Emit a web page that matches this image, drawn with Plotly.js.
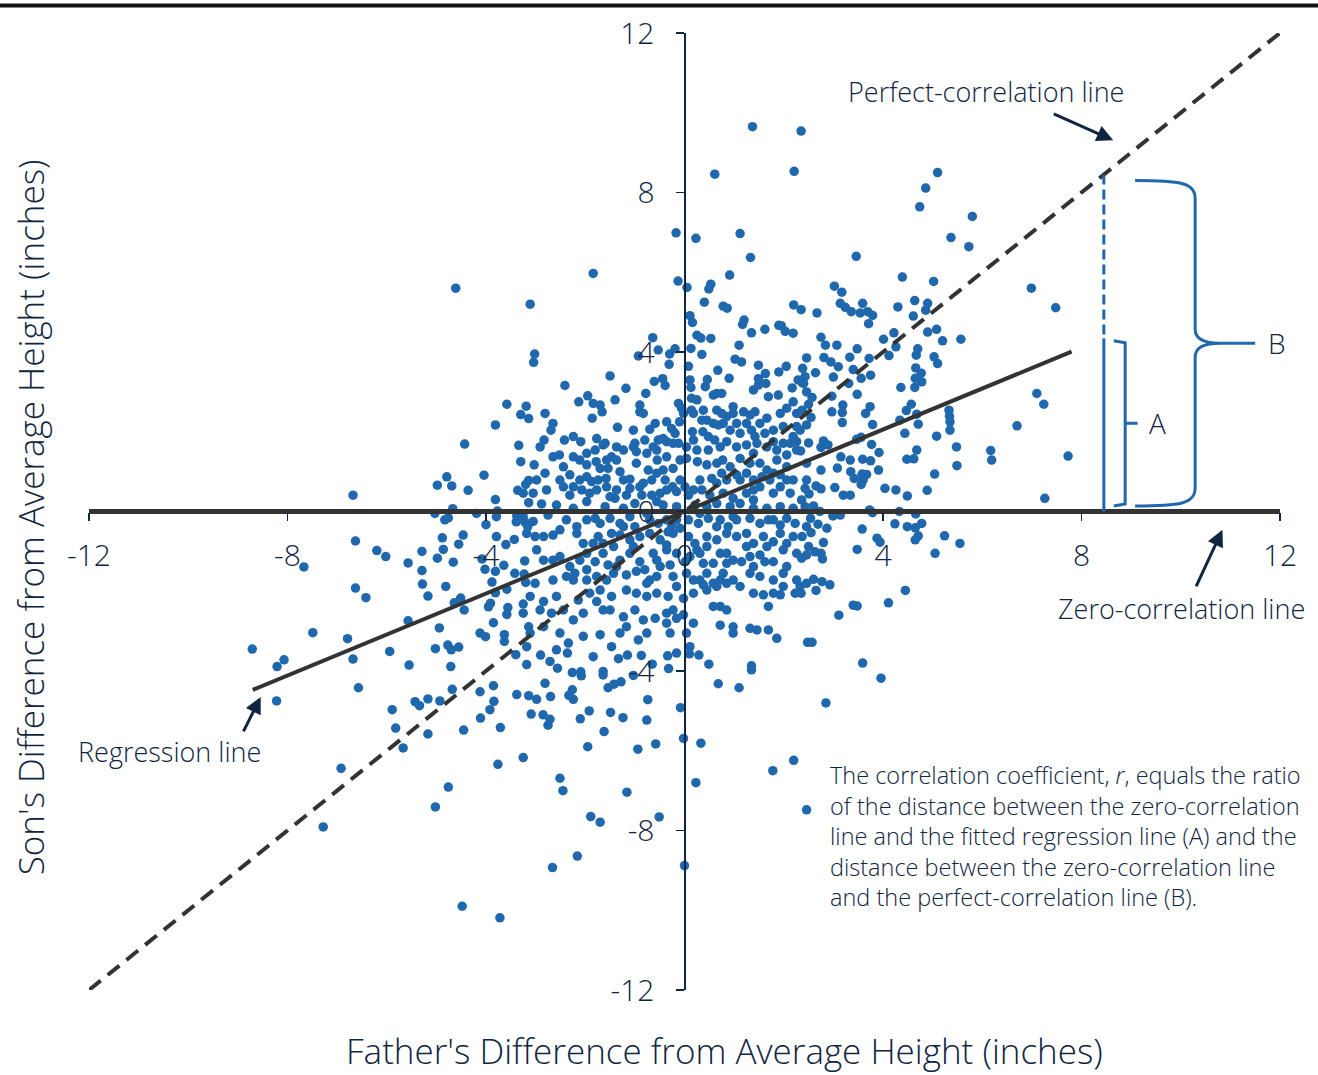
<!DOCTYPE html>
<html>
<head>
<meta charset="utf-8">
<script src="https://cdn.plot.ly/plotly-3.0.1.min.js"></script>
<style>
  html, body { margin: 0; padding: 0; background: #ffffff; }
  #chart { width: 1318px; height: 1075px; }
</style>
</head>
<body>
<div id="chart"></div>
<script>
// Axis ticks and range (inches from the average height)
const axisTicks = [-12, -8, -4, 0, 4, 8, 12];
const axisRange = [-12, 12];

// Fitted regression line: y = slope * x, drawn between these father values
const regressionSlope = 0.514;
const regressionX = [-8.7, 7.8];

// Father value at which distances A and B are measured
const measureX = 8.45;

// Father / son height differences (inches), one pair per family
const fatherSonPairs = [
  [-4.61,5.60],[-3.11,5.20],[1.37,9.65],[2.35,9.54],[0.61,8.46],[2.21,8.53],[-0.17,6.99],[0.23,6.85],
  [1.12,6.97],[1.33,6.37],[-1.84,5.97],[0.91,5.93],[-0.13,5.78],[0.05,5.62],[0.53,5.70],[0.49,5.58],
  [0.40,5.25],[0.78,5.15],[0.86,5.10],[2.20,5.18],[2.35,5.06],[0.11,4.91],[0.16,4.74],[1.20,4.80],
  [1.17,4.69],[1.90,4.67],[1.95,4.66],[2.03,4.52],[2.19,4.47],[1.35,4.48],[1.62,4.57],[0.25,4.42],
  [0.33,4.35],[0.53,4.34],[-0.64,4.36],[1.10,4.17],[0.13,4.09],[-0.53,4.05],[-0.19,4.08],[-0.30,3.95],
  [0.35,3.94],[-3.02,3.95],[-3.04,3.74],[-0.93,3.90],[-0.31,3.69],[0.08,3.64],[1.02,3.82],[1.15,3.75],
  [1.49,3.67],[2.46,3.85],[0.67,3.54],[1.63,3.46],[1.90,3.50],[2.05,3.64],[2.38,3.59],[-1.50,3.40],
  [-2.41,3.16],[-0.61,3.26],[-0.44,3.33],[-0.39,3.16],[0.11,3.30],[0.46,3.31],[0.90,3.34],[1.49,3.33],
  [1.64,3.21],[2.29,3.30],[2.43,3.38],[-1.18,3.09],[0.13,3.11],[0.42,3.13],[2.17,3.10],
  [5.10,8.50],[4.86,8.11],[4.74,7.64],[5.80,7.40],[5.37,6.87],[5.73,6.64],[3.46,6.40],[4.39,5.88],
  [5.02,5.77],[6.99,5.60],[7.48,5.11],[3.02,5.65],[3.17,5.50],[3.14,5.22],[3.24,5.12],[3.36,5.01],
  [3.59,5.22],[3.54,4.98],[3.69,5.01],[3.79,4.92],[3.71,4.71],[2.67,4.98],[4.30,5.13],[4.64,5.29],
  [4.90,5.22],[4.86,5.05],[4.61,4.90],[4.22,4.48],[4.01,4.32],[4.90,4.50],[5.08,4.57],[5.20,4.28],
  [5.57,4.32],[2.75,4.37],[2.84,4.17],[3.07,4.17],[3.48,4.08],[4.26,4.13],[4.70,4.08],[4.67,3.92],
  [4.12,3.91],[3.72,3.84],[3.33,3.87],[2.81,3.86],[2.95,3.75],[3.10,3.63],[3.40,3.56],[2.64,3.48],
  [3.00,3.37],[3.56,3.34],[3.75,3.42],[3.31,3.21],[5.03,3.88],[5.10,3.71],[4.66,3.60],[4.77,3.47],
  [4.65,3.34],[4.78,3.25],[4.36,3.11],[4.64,3.11],[2.40,3.21],
  [-3.58,2.69],[-3.19,2.64],[-3.30,2.43],[-3.14,2.33],[-3.81,2.17],[-4.43,1.69],[-3.34,1.66],[-3.30,1.25],
  [-4.04,0.91],[-4.79,0.87],[-4.98,0.66],[-4.69,0.64],[-4.36,0.53],[-3.36,0.53],[-3.20,0.68],[-3.14,0.78],
  [-3.14,0.22],[-6.68,0.41],[-3.81,0.30],[-4.67,0.07],[-5.03,-0.05],[-4.19,-0.05],[-3.77,0.01],[-3.79,-0.13],
  [-4.83,-0.21],[-4.76,-0.16],[-3.38,-0.11],[-3.39,-0.26],[-3.22,-0.26],[-3.16,-0.38],[-4.00,-0.33],[-6.63,-0.74],
  [-4.88,-0.66],[-4.46,-0.59],[-4.55,-0.82],[-4.86,-0.95],[-5.29,-1.00],[-4.98,-1.17],[-4.66,-1.27],[-3.79,-0.63],
  [-3.43,-0.70],[-3.60,-0.83],[-4.08,-1.19],[-3.64,-1.35],[-3.22,-1.24],[-6.20,-0.98],[-6.02,-1.13],[-5.57,-1.29],
  [-5.29,-1.48],[-7.67,-1.39],[-4.02,-1.45],[-3.81,-1.50],[-3.42,-1.55],[-3.23,-1.57],[-5.28,-1.82],[-4.81,-1.88],
  [-5.17,-2.12],[-6.63,-1.92],[-6.42,-2.16],[-3.88,-1.77],[-3.58,-1.95],[-3.81,-2.04],[-3.20,-1.78],[-4.64,-2.29],
  [-4.51,-2.17],[-4.44,-2.47],[-3.95,-2.39],[-3.91,-2.30],[-3.56,-2.41],[-3.58,-2.58],[-3.25,-2.32],[-3.25,-2.55],
  [-3.85,-2.79],[-5.57,-2.74],[-4.94,-2.92],[-3.14,-2.89],[-7.49,-3.04],[-6.79,-3.19],[-4.12,-3.05],[-4.01,-3.14],
  [-3.63,-3.09],[-3.63,-3.26],[-8.71,-3.45],[-5.94,-3.51],[-5.02,-3.44],[-4.77,-3.35],[-4.55,-3.40],[-4.70,-3.47],
  [-3.40,-3.59],[-8.07,-3.72],[-6.68,-3.70],
  [-8.21,-3.89],[-6.57,-4.42],[-8.22,-4.75],[-5.55,-3.85],[-4.71,-3.89],[-4.68,-4.46],[-5.43,-4.77],[-5.34,-4.87],
  [-5.17,-4.70],[-4.93,-4.75],[-5.89,-4.97],[-5.82,-5.43],[-5.17,-5.58],[-5.67,-5.93],[-4.45,-5.48],[-4.12,-4.52],
  [-3.85,-4.37],[-3.84,-4.76],[-3.92,-4.97],[-4.11,-5.18],[-3.71,-5.42],[-3.38,-4.59],[-3.18,-3.84],[-3.25,-6.17],
  [-3.76,-6.34],[-6.92,-6.44],[-4.76,-6.91],[-5.02,-7.41],[-7.28,-7.91],[-4.48,-9.90],[-3.72,-10.19],
  [-2.90,-3.60],[-2.71,-3.76],[-2.56,-3.93],[-2.36,-3.55],[-2.26,-4.04],[-2.09,-4.02],[-2.08,-4.12],[-1.64,-4.01],
  [-1.64,-4.10],[-1.54,-4.42],[-1.42,-4.33],[-1.28,-4.27],[-1.33,-3.69],[-1.15,-3.60],[-0.87,-3.61],[-1.03,-4.11],
  [-0.65,-3.83],[-0.34,-3.62],[-0.32,-3.94],[-0.74,-4.72],[-2.81,-4.31],[-3.14,-4.62],[-2.98,-4.71],[-2.70,-4.64],
  [-2.33,-4.61],[-2.26,-4.47],[-2.24,-4.71],[-3.09,-5.08],[-2.85,-5.10],[-2.71,-5.21],[-2.75,-5.36],[-2.10,-5.20],
  [-1.92,-5.00],[-1.49,-5.04],[-1.24,-5.17],[-0.76,-5.23],[-1.62,-5.52],[-1.95,-5.90],[-0.94,-5.96],[-0.58,-5.83],
  [-2.51,-6.69],[-2.45,-7.00],[-1.16,-7.04],[-1.89,-7.65],[-1.70,-7.79],[-0.51,-7.66],[-2.16,-8.64],[-2.66,-8.93],
  [0.00,-8.88],[-0.08,-4.92],[-0.02,-5.69],[0.33,-5.81],[0.23,-6.80],[0.10,-3.57],[0.29,-3.60],[0.49,-3.83],
  [1.35,-3.87],[1.35,-3.97],[0.68,-4.32],[1.10,-4.42],[1.78,-6.50],[2.20,-6.24],[2.46,-7.48],[3.59,-3.80],
  [3.96,-4.18],[2.85,-4.80],
  [7.10,2.96],[7.24,2.69],[6.70,2.15],[6.17,1.53],[6.19,1.29],[7.73,1.39],[7.26,0.33],[5.33,2.54],
  [5.34,2.39],[5.35,2.25],[5.35,2.04],[5.08,1.89],[5.48,1.62],[5.49,1.15],[5.04,0.94],[4.89,0.53],
  [3.48,2.94],[2.97,2.89],[3.19,2.67],[3.18,2.48],[2.97,2.50],[2.57,2.86],[2.50,2.69],[2.55,2.36],
  [2.46,2.17],[3.18,2.23],[3.65,2.46],[3.74,2.63],[3.79,2.18],[4.57,2.69],[4.47,2.53],[4.68,2.44],
  [4.71,2.19],[4.34,2.29],[4.44,1.96],[4.68,1.54],[4.48,1.31],[4.62,1.32],[3.92,1.48],[3.77,1.68],
  [3.47,1.81],[3.56,1.86],[2.80,1.77],[2.89,1.67],[2.75,1.61],[2.50,1.72],[2.34,1.52],[3.15,1.37],
  [3.34,1.29],[3.59,1.31],[3.75,1.27],[3.08,1.09],[3.35,1.00],[3.42,0.83],[3.58,0.94],[3.67,0.93],
  [3.60,0.79],[3.56,0.68],[2.75,1.04],[3.91,1.04],[2.46,0.79],[2.43,0.58],[2.65,0.64],[2.75,0.57],
  [2.51,0.44],[3.03,0.60],[3.20,0.41],[3.34,0.41],[4.04,0.58],[4.26,0.54],[4.49,0.39],[2.36,0.29],
  [2.60,0.14],[2.73,0.00],[2.99,-0.11],[3.14,-0.09],[3.73,0.04],[3.79,-0.03],[4.33,0.00],[4.66,-0.06],
  [4.24,-0.31],[4.78,-0.30],[4.49,-0.38],[4.65,-0.41],[4.71,-0.61],[4.65,-0.71],[2.54,-0.17],[2.69,-0.32],
  [2.87,-0.42],[3.58,-0.44],[3.88,-0.67],[3.94,-0.77],[5.24,-0.61],[5.55,-0.80],[5.05,-1.05],[2.55,-0.53],
  [2.80,-0.78],[3.48,-0.95],[2.46,-1.09],[2.63,-1.01],[2.75,-1.05],[2.78,-1.19],[2.36,-1.17],[2.60,-1.70],
  [2.77,-1.76],[2.93,-1.84],[2.65,-1.98],[2.35,-2.05],[4.45,-1.98],[4.11,-2.29],[3.40,-2.35],[3.48,-2.37],
  [3.11,-2.60],[2.48,-3.28],[2.57,-3.28],
  [-0.78,2.96],[0.14,2.84],[0.25,2.80],[0.58,2.92],[0.65,2.96],[0.75,2.96],[0.98,2.63],[1.39,3.05],
  [1.49,3.17],[1.69,2.88],[1.89,2.92],[2.19,2.75],[2.37,3.23],[2.46,3.00],[-2.81,2.46],[-2.13,2.75],
  [-1.95,2.90],[-1.84,2.71],[-1.70,2.67],[-1.66,2.50],[-1.40,2.80],[-0.90,2.67],[-0.90,2.50],[-0.83,2.46],
  [-0.12,2.71],[-0.06,2.59],[-0.02,2.46],[0.14,2.54],[0.38,2.54],[0.65,2.54],[0.75,2.46],[0.98,2.46],
  [1.19,2.50],[1.32,2.42],[1.42,2.50],[1.66,2.34],[1.93,2.46],[2.06,2.59],[2.26,2.46],[2.37,2.54],
  [-2.65,2.21],[-2.69,2.04],[-1.86,2.34],[-1.35,2.11],[-1.03,2.04],[-0.70,2.06],[-0.59,2.21],[-0.36,2.25],
  [-0.26,2.08],[-0.19,1.96],[-0.10,2.25],[-0.12,1.71],[0.16,2.00],[0.37,2.00],[0.45,2.29],[0.58,2.21],
  [0.68,2.17],[0.78,2.21],[0.92,2.04],[1.05,2.21],[1.12,1.96],[1.35,2.04],[1.52,2.21],[1.62,1.96],
  [1.79,2.04],[1.99,2.13],[2.19,1.88],[2.33,2.04],[-2.83,1.79],[-2.42,1.79],[-2.24,1.88],[-2.09,1.75],
  [-1.77,1.83],[-1.60,1.71],[-1.00,1.71],[-0.80,1.79],[-0.53,1.79],[-0.36,1.75],[-0.23,1.71],[0.48,1.88],
  [0.61,1.79],[0.85,1.75],[1.05,1.62],[1.25,1.67],[1.46,1.71],[1.79,1.75],[1.99,1.71],[2.26,1.75],
  [-3.03,1.17],[-2.81,0.96],[-2.52,1.42],[-2.24,1.37],[-2.11,1.29],[-1.97,1.46],[-1.80,1.54],[-1.64,1.67],
  [-1.57,1.29],[-1.78,1.25],[-1.70,1.08],[-1.54,1.08],[-1.37,1.29],[-1.23,1.54],[-1.03,1.62],[-0.97,1.21],
  [-0.76,1.46],[-0.56,1.54],[-0.55,1.29],[-0.36,1.37],[-0.23,1.08],[-0.09,1.29],[0.04,1.33],[0.25,1.54],
  [0.48,1.54],[0.26,1.25],[0.45,1.17],[0.65,1.21],[0.77,1.29],[0.92,1.12],[1.12,1.33],[1.32,1.21],
  [1.52,1.21],[1.66,1.04],[1.86,1.29],[2.06,1.42],[2.26,1.54],[2.46,1.21],[-2.98,0.79],[-2.44,0.62],
  [-2.31,0.92],[-2.11,0.79],[-1.97,0.87],[-1.87,0.75],[-1.74,0.79],[-1.58,0.83],[-1.30,1.00],[-1.10,0.81],
  [-0.90,0.62],[-0.83,0.71],[-0.56,0.96],[-0.39,0.79],[-0.24,0.62],[-0.09,0.79],[0.01,0.62],[0.18,0.54],
  [0.31,0.79],[0.55,0.83],[0.75,0.96],[0.85,0.79],[1.05,0.92],[1.12,0.79],[1.39,0.79],[1.56,0.87],
  [1.72,0.79],[1.93,0.92],[2.06,0.79],
  [-3.25,0.46],[-3.05,0.46],[-2.78,0.54],[-2.31,0.41],[-2.07,0.54],[-1.91,0.46],[-1.77,0.54],[-1.50,0.37],
  [-1.37,0.54],[-1.17,0.41],[-1.10,0.58],[-0.86,0.41],[-0.66,0.41],[-0.49,0.46],[-0.36,0.54],[-0.16,0.50],
  [0.08,0.41],[0.35,0.54],[0.51,0.41],[0.78,0.46],[0.98,0.33],[1.25,0.46],[1.39,0.29],[1.52,0.62],
  [1.79,0.46],[1.93,0.62],[2.13,0.46],[-2.88,0.19],[-2.58,0.16],[-2.24,0.08],[-1.97,0.25],[-1.60,0.12],
  [-1.40,0.33],[-1.23,0.08],[-1.00,0.20],[-0.56,0.25],[-0.43,0.16],[-0.16,0.12],[0.21,0.16],[0.45,0.12],
  [0.65,0.20],[0.92,0.12],[1.12,0.20],[1.39,0.08],[1.66,0.08],[1.93,0.12],[2.19,0.08],[2.43,0.12],
  [-3.25,-0.13],[-3.05,-0.25],[-2.75,-0.09],[-2.38,-0.21],[-2.17,-0.38],[-1.97,-0.21],[-1.80,-0.17],[-1.70,-0.30],
  [-1.50,-0.17],[-1.30,-0.30],[-1.10,-0.13],[-1.00,-0.38],[-0.70,-0.21],[-0.53,-0.30],[-0.36,-0.21],[-0.26,-0.34],
  [-0.16,-0.21],[0.08,-0.21],[0.28,-0.30],[0.48,-0.17],[0.72,-0.21],[0.88,-0.38],[1.05,-0.21],[1.32,-0.17],
  [1.52,-0.30],[1.69,-0.21],[1.93,-0.34],[2.06,-0.17],[2.23,-0.30],[2.46,-0.38],[-3.18,-0.55],[-3.01,-0.63],
  [-2.65,-0.59],[-2.17,-0.55],[-2.04,-0.80],[-1.74,-0.63],[-1.64,-0.80],[-1.47,-0.55],[-1.30,-0.59],[-1.10,-0.71],
  [-0.90,-0.63],[-0.70,-0.55],[-0.49,-0.71],[-0.36,-0.84],[0.08,-0.63],[0.21,-0.80],[0.45,-0.63],[0.65,-0.71],
  [0.85,-0.55],[1.05,-0.63],[1.25,-0.55],[1.39,-0.80],[1.59,-0.63],[1.79,-0.76],[1.93,-0.55],[2.06,-0.80],
  [2.37,-0.63],[2.50,-0.88],
  [-2.98,-0.96],[-2.84,-1.22],[-2.51,-1.13],[-2.31,-1.38],[-2.11,-1.22],[-1.97,-1.46],[-1.80,-1.26],[-1.64,-1.05],
  [-1.54,-1.34],[-1.30,-1.22],[-1.10,-1.05],[-0.90,-1.26],[-0.80,-1.46],[-0.63,-1.05],[-0.56,-1.22],[-0.36,-0.96],
  [-0.29,-1.34],[-0.16,-1.05],[0.25,-0.96],[0.38,-1.30],[0.58,-1.30],[0.72,-1.05],[0.85,-1.30],[0.98,-1.22],
  [1.15,-1.26],[1.32,-1.13],[1.52,-1.09],[1.62,-1.26],[1.79,-1.26],[1.99,-0.96],[2.06,-1.38],[2.26,-1.05],
  [-3.01,-1.80],[-2.65,-1.72],[-2.38,-1.63],[-2.21,-1.55],[-1.97,-1.72],[-1.77,-1.63],[-1.57,-1.72],[-1.43,-1.55],
  [-1.17,-1.59],[-0.97,-1.50],[-0.70,-1.72],[-0.56,-1.63],[-0.23,-1.63],[0.04,-1.55],[0.31,-1.72],[0.45,-1.55],
  [0.58,-1.80],[0.78,-1.55],[0.98,-1.72],[1.32,-1.55],[1.52,-1.63],[1.79,-1.72],[1.99,-1.55],[2.26,-1.72],
  [2.46,-1.80],
  [-3.11,-2.13],[-2.84,-2.26],[-2.58,-2.13],[-2.44,-2.47],[-2.14,-2.22],[-1.91,-2.05],[-1.77,-2.26],[-1.64,-2.47],
  [-1.47,-2.13],[-1.17,-1.97],[-0.97,-2.05],[-0.76,-2.13],[-0.56,-2.05],[-0.33,-2.13],[-0.23,-2.47],[-0.02,-2.18],
  [0.18,-2.05],[0.38,-1.84],[0.45,-1.97],[0.65,-1.88],[0.58,-2.38],[0.72,-2.38],[0.85,-2.47],[0.85,-1.80],
  [1.59,-2.09],[1.69,-2.38],[1.93,-2.09],[2.23,-2.05],[2.33,-1.88],[-2.91,-2.47],[-2.68,-2.55],[-2.24,-2.72],
  [-2.04,-2.55],[-1.50,-2.47],[-1.23,-2.64],[-1.00,-2.47],[-0.83,-2.72],[-0.59,-2.68],[-0.36,-2.55],[-0.16,-2.68],
  [-0.02,-2.59],[0.18,-2.80],
  [-3.11,-3.05],[-2.84,-2.89],[-2.51,-3.05],[-2.34,-3.30],[-2.04,-3.13],[-1.70,-3.09],[-1.47,-3.39],[-1.30,-3.05],
  [-1.17,-2.89],[-0.93,-3.22],[-0.76,-3.05],[-0.36,-2.80],[-0.29,-3.05],[0.04,-3.05],[0.11,-3.39],[0.72,-2.85],
  [0.98,-2.89],[0.98,-3.05],[1.32,-2.93],[1.46,-2.97],[1.69,-2.97],[1.86,-3.18],[-3.18,-3.39],[-2.58,-3.47],
  [-1.84,-3.64],[-0.16,-3.55],
  [-0.43,1.83],[-0.63,1.62],[-0.73,1.04],[-0.66,0.79],[-0.43,1.04],[-0.23,-0.55],[-0.09,-0.42],[-0.33,-0.51],
  [0.11,-1.13],[0.31,-1.05],[0.45,-0.88],[0.01,-1.26],[0.18,2.46],[0.35,2.29],[0.85,2.38],[1.25,2.21],
  [1.42,1.88],[1.66,1.62],[0.72,1.62],[0.18,1.79],[0.04,1.62],[-0.97,1.50],[-1.37,1.62],[-1.47,1.37],
  [-1.97,1.17],[-2.44,1.12],[-2.65,1.37],[-2.91,1.62],[-2.24,0.62],[-2.51,0.79],[-1.57,0.62],[-1.23,0.79],
  [-0.76,-0.05],[-1.23,-0.38],[-2.51,-0.46],[-2.84,-0.63],[-1.84,-0.80],[-1.43,-0.88],[-1.03,-0.88],[-1.97,-1.05],
  [-2.65,-1.22],[-2.24,-1.72],[-1.70,-1.97],[-1.37,-1.38],[-0.49,-1.38],[-0.76,-1.80],[-0.16,-1.88],[0.18,-1.72],
  [0.72,-1.72],[1.12,-1.88],[1.39,-2.05],[1.79,-2.05],[1.99,-1.88],[1.39,-1.38],[0.85,-1.05],[1.25,-0.88],
  [1.66,-0.88],[2.19,-0.63],[1.79,-0.21],[0.98,-0.13],[0.65,-0.38],[0.31,-0.05],[1.39,0.54],[0.65,0.71],
  [1.25,0.96],[1.79,0.96],[2.19,0.79],[2.06,1.12],[1.39,1.46],[1.86,1.54],[2.13,1.71],[2.26,2.13]
];

const fatherDiff = fatherSonPairs.map(p => p[0]);
const sonDiff = fatherSonPairs.map(p => p[1]);

const NAVY = '#0f2541';
const BLUE = '#1f68ad';
const DARK = '#333333';
const FONT = '"Open Sans", Lato, "DejaVu Sans", sans-serif';

// Reference lines computed from the axis range and fitted slope
const zeroLine = { x: axisRange, y: [0, 0] };
const perfectLine = { x: axisRange, y: axisRange };
const regressionLine = { x: regressionX, y: regressionX.map(v => regressionSlope * v) };
const valueB = measureX;                       // perfect-correlation line at measureX
const valueA = regressionSlope * measureX;     // regression line at measureX

const traces = [
  {
    type: 'scatter', mode: 'markers', x: fatherDiff, y: sonDiff,
    marker: { color: BLUE, size: 9.5, line: { width: 0 } },
    hoverinfo: 'skip'
  },
  {
    type: 'scatter', mode: 'lines', x: zeroLine.x, y: zeroLine.y,
    line: { color: DARK, width: 5 }, hoverinfo: 'skip'
  },
  {
    type: 'scatter', mode: 'lines', x: perfectLine.x, y: perfectLine.y,
    line: { color: DARK, width: 4, dash: '15px,9px' }, hoverinfo: 'skip'
  },
  {
    type: 'scatter', mode: 'lines', x: regressionLine.x, y: regressionLine.y,
    line: { color: DARK, width: 4 }, hoverinfo: 'skip'
  },
  {
    // dashed part between regression and perfect-correlation lines
    type: 'scatter', mode: 'lines', x: [measureX, measureX], y: [valueB, valueA],
    line: { color: BLUE, width: 3, dash: '10px,5px' }, hoverinfo: 'skip'
  },
  {
    // solid part between zero-correlation and regression lines
    type: 'scatter', mode: 'lines', x: [measureX, measureX], y: [valueA, 0],
    line: { color: BLUE, width: 3 }, hoverinfo: 'skip'
  }
];

// Bracket A ("]" with a centre tick) and curly brace B, in data units
const aL = measureX + 0.2, aR = measureX + 0.43;
const aTop = valueA - 0.06, aBot = 0.14, aMid = (aTop + aBot) / 2;
const bracketA = `M ${aL},${aTop} L ${aR},${aTop - 0.05} L ${aR},${aBot + 0.05} L ${aL},${aBot} ` +
                 `M ${aR},${aMid} L ${aR + 0.25},${aMid}`;

const bL = 9.08, bM = 10.29, bT = 11.5;
const bTop = valueB - 0.15, bBot = 0.14, bMid = (bTop + bBot) / 2;
const braceB =
  `M ${bL},${bTop} C ${bL + 0.9},${bTop} ${bM},${bTop - 0.05} ${bM},${bTop - 0.45} ` +
  `L ${bM},${bMid + 0.35} Q ${bM},${bMid} ${bM + 0.5},${bMid} L ${bT},${bMid} ` +
  `L ${bM + 0.5},${bMid} Q ${bM},${bMid} ${bM},${bMid - 0.35} ` +
  `L ${bM},${bBot + 0.45} C ${bM},${bBot + 0.05} ${bL + 0.9},${bBot} ${bL},${bBot}`;

const tickFont = { family: FONT, size: 30, color: NAVY, weight: 300 };
const labelFont = { family: FONT, size: 27, color: NAVY, weight: 300 };
const titleFont = { family: FONT, size: 35, color: NAVY, weight: 300 };

const arrow = (x, y, ax, ay) => ({
  x, y, xref: 'x', yref: 'y', ax, ay, axref: 'pixel', ayref: 'pixel',
  text: '', showarrow: true, arrowhead: 2, arrowsize: 1.1, arrowwidth: 3,
  arrowcolor: NAVY, standoff: 0, startstandoff: 0
});

const layout = {
  width: 1318, height: 1075,
  margin: { l: 89, r: 38, t: 33, b: 85 },
  paper_bgcolor: '#ffffff', plot_bgcolor: '#ffffff',
  showlegend: false,
  font: { family: FONT, color: NAVY },
  xaxis: {
    range: axisRange, anchor: 'free', position: 0.5,
    tickvals: axisTicks, ticktext: axisTicks.map(String),
    ticks: 'outside', ticklen: 8, tickwidth: 1.5, tickcolor: NAVY,
    showline: false, showgrid: false, zeroline: false,
    tickfont: tickFont, ticklabelstandoff: 9, fixedrange: true
  },
  yaxis: {
    range: axisRange, anchor: 'free', position: 0.5,
    tickvals: axisTicks, ticktext: axisTicks.map(String),
    ticks: 'outside', ticklen: 8, tickwidth: 1.5, tickcolor: NAVY,
    showline: true, linecolor: NAVY, linewidth: 2,
    showgrid: false, zeroline: false,
    tickfont: tickFont, ticklabelstandoff: 15, fixedrange: true
  },
  shapes: [
    {
      type: 'line', xref: 'paper', yref: 'paper',
      x0: -0.08, x1: 1.04, y0: 1.0288, y1: 1.0288,
      line: { color: '#111111', width: 4 }
    },
    { type: 'path', xref: 'x', yref: 'y', path: bracketA, line: { color: BLUE, width: 3 } },
    { type: 'path', xref: 'x', yref: 'y', path: braceB, line: { color: BLUE, width: 3 } }
  ],
  annotations: [
    {
      text: "Son's Difference from Average Height (inches)",
      xref: 'paper', yref: 'paper', x: -0.0495, y: 0.494, textangle: -90,
      xanchor: 'center', yanchor: 'middle',
      showarrow: false, font: titleFont
    },
    {
      text: "Father's Difference from Average Height (inches)",
      xref: 'paper', yref: 'paper', x: 0.534, y: -0.063,
      xanchor: 'center', yanchor: 'middle',
      showarrow: false, font: titleFont
    },
    { text: 'Perfect-correlation line', x: 6.08, y: 10.54, xref: 'x', yref: 'y', showarrow: false, font: labelFont },
    { text: 'Zero-correlation line', x: 10.01, y: -2.44, xref: 'x', yref: 'y', showarrow: false, font: labelFont },
    { text: 'Regression line', x: -10.37, y: -6.03, xref: 'x', yref: 'y', showarrow: false, font: labelFont },
    { text: 'A', x: 9.53, y: aMid, xref: 'x', yref: 'y', showarrow: false, font: { family: FONT, size: 28, color: NAVY, weight: 300 } },
    { text: 'B', x: 11.93, y: bMid, xref: 'x', yref: 'y', showarrow: false, font: { family: FONT, size: 28, color: NAVY, weight: 300 } },
    {
      text: 'The correlation coefficient, <i>r</i>, equals the ratio<br>' +
            'of the distance between the zero-correlation<br>' +
            'line and the fitted regression line (A) and the<br>' +
            'distance between the zero-correlation line<br>' +
            'and the perfect-correlation line (B).',
      x: 2.89, y: -6.16, xref: 'x', yref: 'y', xanchor: 'left', yanchor: 'top', align: 'left',
      showarrow: false, font: { family: FONT, size: 23.5, color: NAVY, weight: 300 }
    },
    arrow(8.64, 9.31, -61, -27),
    arrow(10.84, -0.46, -27, 58),
    arrow(-8.54, -4.65, -18, 36)
  ]
};

Plotly.newPlot('chart', traces, layout, { staticPlot: true, displayModeBar: false });
</script>
</body>
</html>
